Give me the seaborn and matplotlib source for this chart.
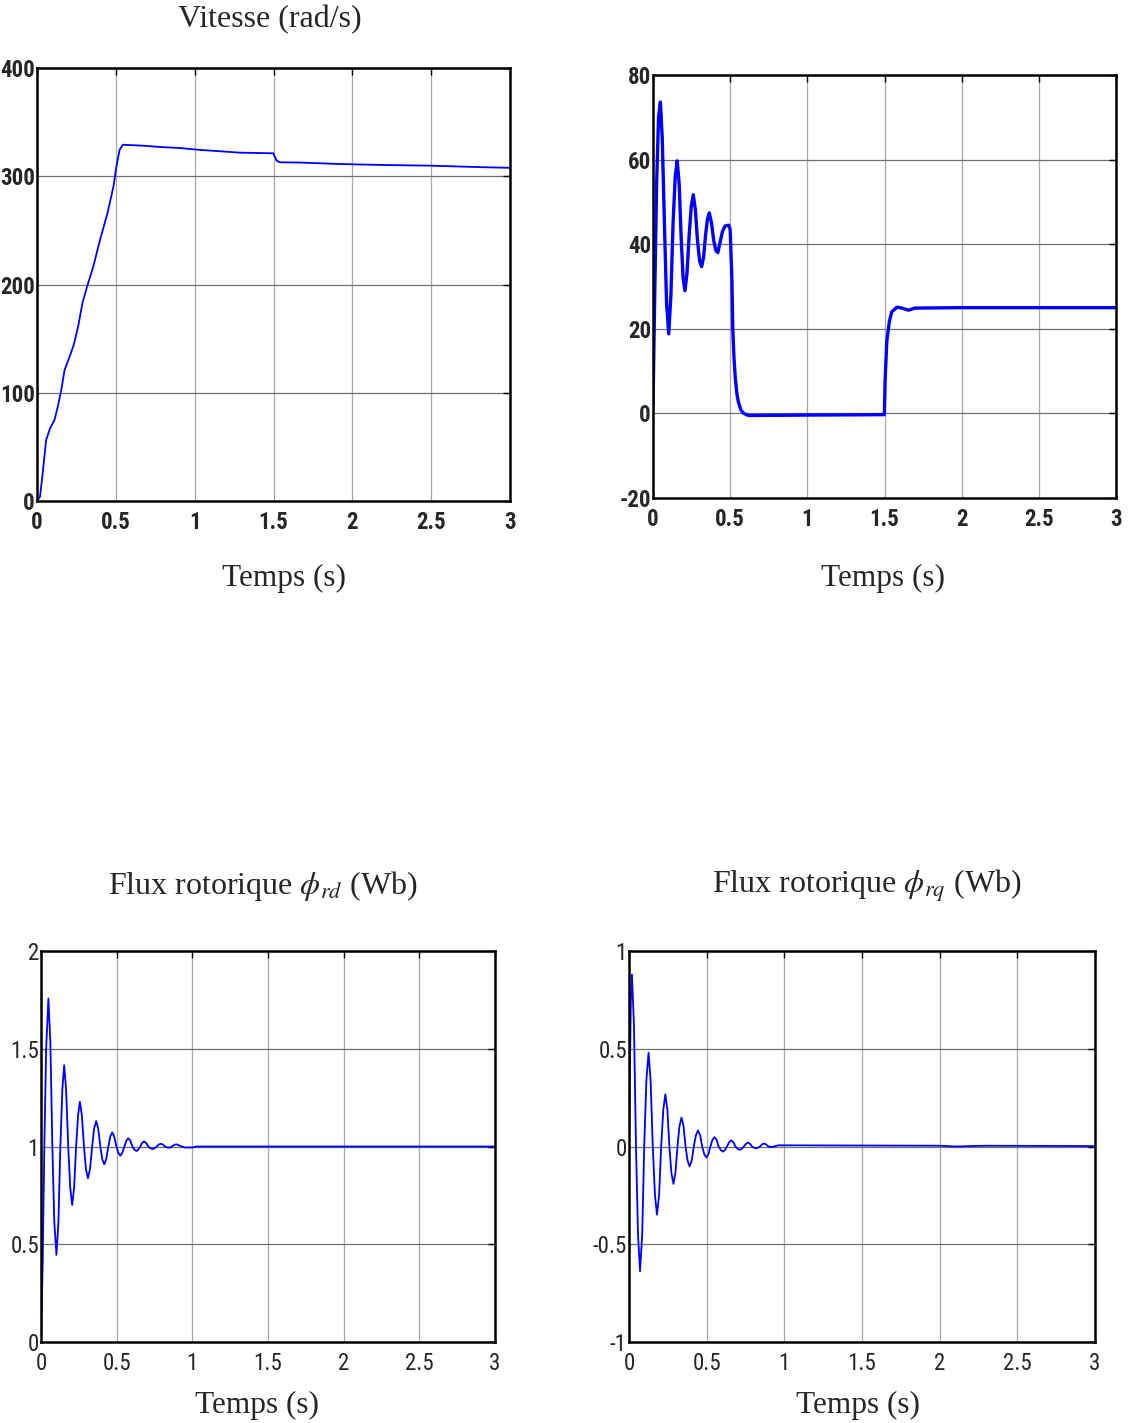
import numpy as np
import pandas as pd
import matplotlib
matplotlib.use("Agg")
import matplotlib.pyplot as plt
import seaborn as sns

# ---------------- data ----------------
speed_t = [0, 0.019, 0.036, 0.058, 0.083, 0.111, 0.132, 0.154, 0.175, 0.207, 0.233,
           0.261, 0.288, 0.318, 0.357, 0.400, 0.447, 0.485, 0.502, 0.524, 0.545,
           0.677, 0.784, 0.912, 1.019, 1.287, 1.499, 1.52, 1.541, 1.678, 1.92,
           2.196, 2.49, 2.84, 3.0]
speed_v = [0, 4, 25.6, 56.4, 67.2, 74.9, 87.2, 102.6, 121.1, 133.4, 144.2,
           161.2, 182.7, 198.2, 216.6, 241.3, 265.9, 290.6, 307.6, 324.5, 329.1,
           328.2, 327.0, 326.0, 324.5, 321.8, 321.2, 314.4, 312.9, 312.6, 311.3,
           310.4, 309.8, 308.3, 307.8]

torque_t = [0, 0.012, 0.024, 0.036, 0.048, 0.060, 0.074, 0.088, 0.102, 0.116, 0.130,
            0.144, 0.157, 0.170, 0.182, 0.195, 0.207, 0.220, 0.234, 0.248, 0.261,
            0.275, 0.288, 0.302, 0.315, 0.328, 0.340, 0.353, 0.365, 0.379, 0.393,
            0.407, 0.420, 0.435, 0.450, 0.467, 0.490, 0.500, 0.511, 0.517, 0.525,
            0.533, 0.544, 0.554, 0.570, 0.587, 0.62, 1.0, 1.499, 1.504, 1.515,
            1.532, 1.547, 1.580, 1.612, 1.655, 1.698, 2.0, 3.0]
torque_v = [2, 30, 55, 70, 73.6, 65, 45, 26, 18.8, 28, 45,
            56, 59.7, 54, 42, 32, 29.0, 33, 42, 49, 51.7,
            48, 41, 36, 34.7, 37, 42, 46, 47.4, 45, 41,
            38.5, 38.0, 40.5, 43, 44.3, 44.5, 43.5, 32, 20, 13,
            8.5, 4.5, 2.6, 0.8, 0.0, -0.5, -0.4, -0.3, 7.8, 17.1,
            21.8, 24.0, 25.1, 24.9, 24.4, 24.9, 25.0, 25.0]

phi_rd_t = [0, 0.011, 0.022, 0.034, 0.049, 0.062, 0.075, 0.088, 0.102, 0.115, 0.128,
            0.141, 0.153, 0.166, 0.180, 0.193, 0.206, 0.219, 0.232, 0.245, 0.257,
            0.270, 0.284, 0.297, 0.310, 0.324, 0.338, 0.351, 0.365, 0.378, 0.392,
            0.405, 0.418, 0.431, 0.445, 0.458, 0.471, 0.484, 0.498, 0.511, 0.524,
            0.537, 0.551, 0.564, 0.577, 0.590, 0.604, 0.617, 0.631, 0.643, 0.656,
            0.668, 0.681, 0.695, 0.709, 0.723, 0.737, 0.751, 0.765, 0.778, 0.792,
            0.805, 0.819, 0.832, 0.845, 0.858, 0.871, 0.883, 0.896, 0.92, 0.95,
            0.98, 1.0, 1.03, 3.0]
phi_rd_v = [0, 0.40, 1.00, 1.50, 1.757, 1.53, 1.00, 0.61, 0.446, 0.61, 1.00,
            1.29, 1.416, 1.29, 1.00, 0.79, 0.701, 0.79, 1.00, 1.16, 1.229,
            1.16, 1.00, 0.885, 0.837, 0.885, 1.00, 1.092, 1.130, 1.092, 1.00,
            0.935, 0.909, 0.935, 1.00, 1.051, 1.072, 1.051, 1.00, 0.967, 0.953,
            0.967, 1.00, 1.030, 1.042, 1.030, 1.00, 0.984, 0.977, 0.984, 1.00,
            1.018, 1.026, 1.018, 1.00, 0.991, 0.987, 0.991, 1.00, 1.010, 1.014,
            1.010, 1.00, 0.996, 0.994, 0.996, 1.004, 1.009, 1.011, 1.003, 0.995,
            0.995, 0.995, 1.0, 1.0]

phi_rq_t = [0, 0.006, 0.012, 0.019, 0.032, 0.045, 0.058, 0.071, 0.085, 0.098, 0.112,
            0.126, 0.139, 0.153, 0.167, 0.180, 0.194, 0.207, 0.221, 0.234, 0.247,
            0.260, 0.273, 0.286, 0.299, 0.312, 0.325, 0.338, 0.351, 0.364, 0.377,
            0.390, 0.404, 0.417, 0.431, 0.444, 0.458, 0.471, 0.485, 0.498, 0.511,
            0.524, 0.537, 0.550, 0.564, 0.577, 0.591, 0.604, 0.618, 0.631, 0.645,
            0.658, 0.672, 0.685, 0.699, 0.712, 0.726, 0.739, 0.753, 0.766, 0.779,
            0.792, 0.805, 0.818, 0.831, 0.844, 0.857, 0.870, 0.883, 0.896, 0.922,
            0.945, 0.963, 1.0, 2.0, 2.1, 2.3, 3.0]
phi_rq_v = [0, 0.40, 0.75, 0.88, 0.62, 0.0, -0.45, -0.638, -0.45, 0.0, 0.34,
            0.48, 0.34, 0.0, -0.247, -0.349, -0.247, 0.0, 0.189, 0.267, 0.189,
            0.0, -0.135, -0.191, -0.135, 0.0, 0.105, 0.148, 0.105, 0.0, -0.072,
            -0.102, -0.072, 0.0, 0.058, 0.082, 0.058, 0.0, -0.040, -0.056, -0.040,
            0.0, 0.034, 0.048, 0.034, 0.0, -0.018, -0.026, -0.018, 0.0, 0.022,
            0.031, 0.022, 0.0, -0.012, -0.017, -0.012, 0.0, 0.014, 0.020, 0.014,
            0.0, -0.006, -0.009, -0.006, 0.0, 0.011, 0.015, 0.011, 0.0, -0.003,
            0.003, 0.006, 0.006, 0.004, 0.0, 0.004, 0.002]

x_ticks = [0, 0.5, 1, 1.5, 2, 2.5, 3]
x_ticklabels = ["0", "0.5", "1", "1.5", "2", "2.5", "3"]

titles = ["Vitesse (rad/s)", "", r"Flux rotorique $\phi_{rd}$ (Wb)", r"Flux rotorique $\phi_{rq}$ (Wb)"]
xlabel = "Temps (s)"

# ---------------- style ----------------
sns.set_theme(style="white")
plt.rcParams["font.family"] = ["Liberation Serif", "DejaVu Serif"]
plt.rcParams["mathtext.fontset"] = "stix"

W, H = 1131, 1423
fig = plt.figure(figsize=(W / 100, H / 100), dpi=100)

def box(l, t, r, b):
    return [l / W, 1 - b / H, (r - l) / W, (b - t) / H]

panels = [
    dict(pos=box(37, 68, 510, 501), t=speed_t, v=speed_v, ylim=(0, 400),
         yticks=[0, 100, 200, 300, 400], ylabels=["0", "100", "200", "300", "400"],
         bold=True, lw=1.3, title_xy=(270, 20), xl_xy=(284, 578)),
    dict(pos=box(653, 75, 1116, 498), t=torque_t, v=torque_v, ylim=(-20, 80),
         yticks=[-20, 0, 20, 40, 60, 80], ylabels=["-20", "0", "20", "40", "60", "80"],
         bold=True, lw=2.4, title_xy=(884, 40), xl_xy=(883, 578)),
    dict(pos=box(41, 951, 495, 1342), t=phi_rd_t, v=phi_rd_v, ylim=(0, 2),
         yticks=[0, 0.5, 1, 1.5, 2], ylabels=["0", "0.5", "1", "1.5", "2"],
         bold=False, lw=1.3, title_xy=(263, 886), xl_xy=(257, 1405)),
    dict(pos=box(629, 951, 1095, 1342), t=phi_rq_t, v=phi_rq_v, ylim=(-1, 1),
         yticks=[-1, -0.5, 0, 0.5, 1], ylabels=["-1", "-0.5", "0", "0.5", "1"],
         bold=False, lw=1.3, title_xy=(867, 886), xl_xy=(858, 1405)),
]

tick_family = ["Roboto Condensed", "Liberation Sans Narrow", "Liberation Sans", "DejaVu Sans"]

for i, p in enumerate(panels):
    ax = fig.add_axes(p["pos"])
    df = pd.DataFrame({"t": p["t"], "v": p["v"]})
    sns.lineplot(data=df, x="t", y="v", ax=ax, color="#0000ff", lw=p["lw"],
                 estimator=None, sort=False)
    ax.set_xlim(0, 3)
    ax.set_ylim(*p["ylim"])
    ax.set_xticks(x_ticks)
    ax.set_yticks(p["yticks"])
    weight = "bold" if p["bold"] else "normal"
    ax.set_xticklabels(x_ticklabels, family=tick_family, fontsize=16.5, weight=weight)
    ax.set_yticklabels(p["ylabels"], family=tick_family, fontsize=16.5, weight=weight)
    ax.set_xlabel("")
    ax.set_ylabel("")
    ax.tick_params(direction="in", length=5, width=1, top=True, right=True,
                   color="black")
    ax.tick_params(axis="x", pad=7)
    ax.tick_params(axis="y", pad=1.5)
    ax.xaxis.grid(True, color="#a8a8a8", lw=0.9)
    ax.yaxis.grid(True, color="#707070", lw=0.9)
    for s in ax.spines.values():
        s.set_color("black")
        s.set_linewidth(1.8)
    if titles[i]:
        fig.text(p["title_xy"][0] / W, 1 - p["title_xy"][1] / H, titles[i],
                 ha="center", va="center", fontsize=23)
    fig.text(p["xl_xy"][0] / W, 1 - p["xl_xy"][1] / H, xlabel,
             ha="center", va="center", fontsize=22.5)

fig.savefig("out.png", dpi=100, facecolor="white")
